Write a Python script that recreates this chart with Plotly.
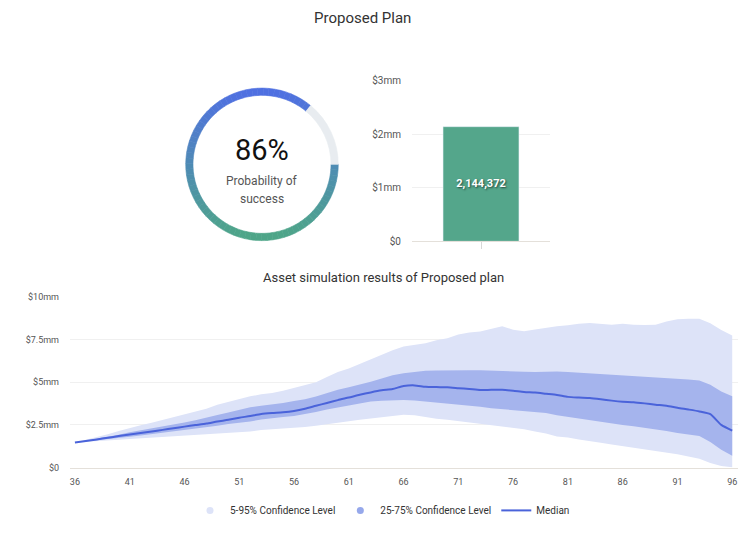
import numpy as np
import plotly.graph_objects as go

# --- data -----------------------------------------------------------------
success_pct = 86
bar_category = ["Proposed Plan"]
bar_value = [2144372]
bar_tickvals = [0, 1000000, 2000000, 3000000]
bar_ticktext = ["$0", "$1mm", "$2mm", "$3mm"]

ages = list(range(36, 97))
# asset percentiles in $mm, one value per age 36..96
p95 = [1.47, 1.62, 1.78, 1.95, 2.15, 2.33, 2.48, 2.63, 2.79, 2.97,
       3.10, 3.28, 3.45, 3.68, 3.85, 4.02, 4.17, 4.29, 4.36, 4.50,
       4.66, 4.80, 5.00, 5.30, 5.60, 5.80, 6.06, 6.35, 6.60, 6.87,
       7.08, 7.16, 7.27, 7.45, 7.56, 7.78, 7.90, 7.96, 8.10, 8.27,
       8.07, 7.98, 8.08, 8.18, 8.27, 8.32, 8.42, 8.46, 8.42, 8.36,
       8.42, 8.35, 8.34, 8.36, 8.55, 8.68, 8.70, 8.70, 8.45, 8.05,
       7.72]
p75 = [1.47, 1.58, 1.69, 1.81, 1.93, 2.07, 2.18, 2.29, 2.42, 2.55,
       2.64, 2.78, 2.91, 3.08, 3.22, 3.38, 3.53, 3.62, 3.68, 3.78,
       3.90, 4.00, 4.16, 4.36, 4.55, 4.70, 4.85, 5.02, 5.22, 5.40,
       5.52, 5.60, 5.66, 5.68, 5.70, 5.70, 5.70, 5.69, 5.66, 5.66,
       5.62, 5.61, 5.60, 5.62, 5.62, 5.60, 5.56, 5.55, 5.50, 5.45,
       5.43, 5.38, 5.33, 5.31, 5.26, 5.24, 5.16, 5.09, 4.85, 4.45,
       4.17]
median = [1.47, 1.56, 1.65, 1.75, 1.85, 1.94, 2.03, 2.12, 2.21, 2.31,
          2.40, 2.49, 2.58, 2.70, 2.80, 2.92, 3.02, 3.14, 3.20, 3.24,
          3.32, 3.45, 3.62, 3.78, 3.95, 4.10, 4.26, 4.40, 4.52, 4.60,
          4.77, 4.81, 4.73, 4.71, 4.70, 4.65, 4.60, 4.54, 4.55, 4.55,
          4.50, 4.43, 4.39, 4.32, 4.25, 4.14, 4.10, 4.07, 4.00, 3.92,
          3.86, 3.83, 3.76, 3.68, 3.62, 3.50, 3.40, 3.29, 3.13, 2.50,
          2.17]
p25 = [1.47, 1.53, 1.60, 1.67, 1.74, 1.81, 1.88, 1.96, 2.04, 2.12,
       2.19, 2.26, 2.35, 2.45, 2.55, 2.62, 2.70, 2.82, 2.91, 2.96,
       3.02, 3.13, 3.26, 3.40, 3.52, 3.63, 3.76, 3.87, 3.92, 3.96,
       3.96, 3.93, 3.87, 3.83, 3.75, 3.68, 3.62, 3.56, 3.48, 3.42,
       3.38, 3.33, 3.26, 3.20, 3.07, 2.97, 2.88, 2.80, 2.70, 2.60,
       2.50, 2.42, 2.34, 2.26, 2.14, 2.03, 1.94, 1.85, 1.50, 1.05,
       0.70]
p5 = [1.47, 1.50, 1.55, 1.59, 1.63, 1.67, 1.71, 1.74, 1.77, 1.81,
      1.86, 1.90, 1.94, 1.98, 2.03, 2.07, 2.12, 2.20, 2.24, 2.27,
      2.32, 2.38, 2.45, 2.55, 2.63, 2.72, 2.80, 2.88, 2.98, 3.06,
      3.10, 3.06, 2.95, 2.86, 2.80, 2.72, 2.66, 2.60, 2.50, 2.42,
      2.34, 2.25, 2.12, 2.00, 1.82, 1.76, 1.65, 1.57, 1.46, 1.36,
      1.27, 1.18, 1.08, 1.00, 0.88, 0.78, 0.65, 0.52, 0.27, 0.10,
      0.03]
age_ticks = list(range(36, 97, 5))
asset_tickvals = [0, 2.5, 5, 7.5, 10]
asset_ticktext = ["$0", "$2.5mm", "$5mm", "$7.5mm", "$10mm"]

FONT = "Roboto, Arial, sans-serif"
OUTER = "rgb(221,227,248)"
INNER = "rgb(165,180,237)"
LINE = "rgb(74,99,218)"
BAR = "rgb(84,166,139)"
GRID = "#f0f0f0"
BASE = "#e4e0da"

fig = go.Figure()

# --- donut with a top-to-bottom blue->green gradient --------------------
n_seg = 72
seg = success_pct / n_seg
top_rgb = np.array([80, 112, 226])
bot_rgb = np.array([78, 166, 136])
seg_colors = []
for i in range(n_seg):
    ang = np.radians(90 + (i + 0.5) * seg * 3.6)
    t = (1 - np.cos(ang)) / 2
    c = top_rgb + (bot_rgb - top_rgb) * t
    seg_colors.append("rgb(%d,%d,%d)" % tuple(c))
fig.add_trace(go.Pie(
    values=[seg] * n_seg + [100 - success_pct],
    marker=dict(colors=seg_colors + ["#e8ecf0"],
                line=dict(width=0.6, color=seg_colors + ["#e8ecf0"])),
    hole=0.905, sort=False, direction="clockwise", rotation=90,
    textinfo="none", hoverinfo="skip", showlegend=False,
    domain=dict(x=[184 / 750, 340 / 750], y=[1 - 240 / 534, 1 - 84 / 534]),
))

# --- projected assets bar -------------------------------------------------
fig.add_trace(go.Bar(
    x=bar_category, y=bar_value, marker_color=BAR, width=0.55,
    texttemplate="%{y:,.0f}", textposition="inside", insidetextanchor="middle",
    textfont=dict(color="white", size=11, family=FONT, weight="bold",
                  shadow="1px 1px 2px rgba(0,0,0,0.6)"),
    showlegend=False, xaxis="x", yaxis="y",
))

# --- simulation bands -----------------------------------------------------
fig.add_trace(go.Scatter(x=ages, y=p5, mode="lines", line=dict(width=0),
                         showlegend=False, hoverinfo="skip", xaxis="x2", yaxis="y2"))
fig.add_trace(go.Scatter(x=ages, y=p95, mode="lines", line=dict(width=0),
                         fill="tonexty", fillcolor=OUTER, showlegend=False,
                         xaxis="x2", yaxis="y2"))
fig.add_trace(go.Scatter(x=ages, y=p25, mode="lines", line=dict(width=0),
                         showlegend=False, hoverinfo="skip", xaxis="x2", yaxis="y2"))
fig.add_trace(go.Scatter(x=ages, y=p75, mode="lines", line=dict(width=0),
                         fill="tonexty", fillcolor=INNER, showlegend=False,
                         xaxis="x2", yaxis="y2"))
fig.add_trace(go.Scatter(x=ages, y=median, mode="lines",
                         line=dict(width=2, color=LINE, shape="spline", smoothing=0.6),
                         showlegend=False, xaxis="x2", yaxis="y2"))

# legend entries (round markers like the original)
fig.add_trace(go.Scatter(x=[None], y=[None], mode="markers", name="5-95% Confidence Level",
                         marker=dict(size=7, color=OUTER), xaxis="x2", yaxis="y2"))
fig.add_trace(go.Scatter(x=[None], y=[None], mode="markers", name="25-75% Confidence Level",
                         marker=dict(size=7, color="rgb(150,168,235)"), xaxis="x2", yaxis="y2"))
fig.add_trace(go.Scatter(x=[None], y=[None], mode="lines", name="Median",
                         line=dict(width=2, color=LINE), xaxis="x2", yaxis="y2"))


def label(text, px, py, size, color):
    return dict(text=text, x=px / 750, y=1 - py / 534, xref="paper", yref="paper",
                xanchor="center", yanchor="middle", showarrow=False,
                font=dict(size=size, color=color, family=FONT))


fig.update_layout(
    width=750, height=534,
    margin=dict(l=0, r=0, t=0, b=0),
    paper_bgcolor="white", plot_bgcolor="white",
    font=dict(family=FONT, color="#555", size=10),
    xaxis=dict(domain=[412 / 750, 550 / 750], anchor="y", showticklabels=False,
               ticks="outside", ticklen=7, tickcolor="#d8d8d8",
               showline=True, linecolor=BASE, showgrid=False, fixedrange=True),
    yaxis=dict(domain=[1 - 240.7 / 534, 1 - 76.7 / 534], anchor="x", range=[0, 3000000],
               tickvals=bar_tickvals, ticktext=bar_ticktext,
               gridcolor=GRID, zeroline=False, ticklabelstandoff=10,
               tickfont=dict(size=10, color="#555")),
    xaxis2=dict(domain=[70 / 750, 737.7 / 750], anchor="y2", range=[35.55, 96.5],
                tickvals=age_ticks, showgrid=False, showline=True, linecolor=BASE,
                tickfont=dict(size=9, color="#555"), ticklabelstandoff=6),
    yaxis2=dict(domain=[1 - 472.3 / 534, 1 - 297.3 / 534], anchor="x2", range=[0, 10],
                tickvals=asset_tickvals, ticktext=asset_ticktext,
                gridcolor=GRID, zeroline=False, ticklabelstandoff=10,
                tickfont=dict(size=9, color="#555")),
    legend=dict(orientation="h", x=0.51, xanchor="center", y=1 - 516 / 534,
                yanchor="middle", traceorder="normal",
                font=dict(size=10, color="#333"), itemwidth=30),
    annotations=[
        label("Proposed Plan", 362, 12, 15, "#333"),
        label("86%", 262, 147, 29, "#111"),
        label("Probability of", 262, 179, 12, "#555"),
        label("success", 262, 197, 12, "#555"),
        label("Asset simulation results of Proposed plan", 383, 278, 13, "#333"),
    ],
)

fig.write_html("out.html", config={"displayModeBar": False},
               post_script="document.body.style.margin='0';")
